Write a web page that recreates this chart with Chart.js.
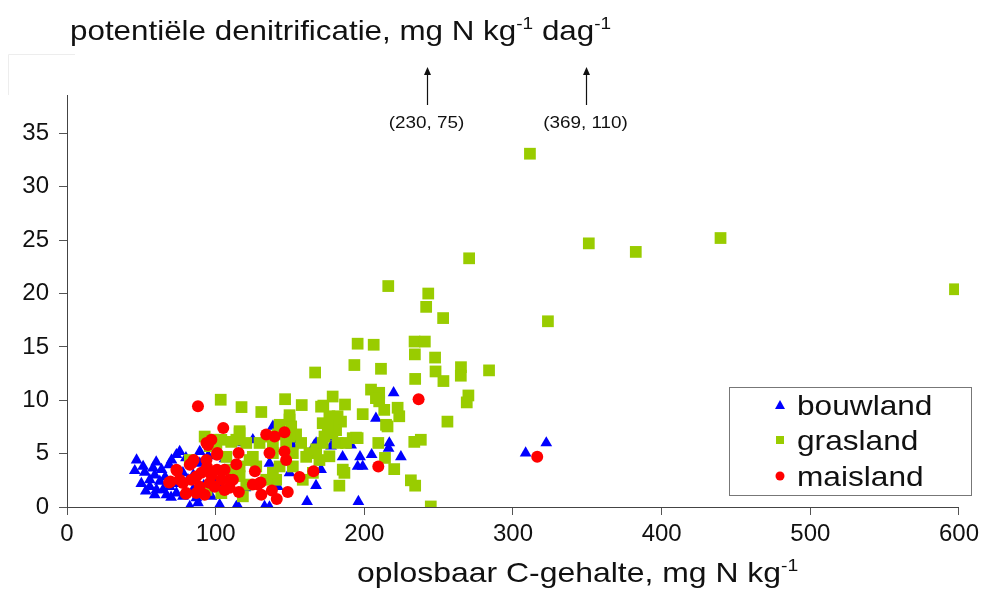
<!DOCTYPE html>
<html>
<head>
<meta charset="utf-8">
<script src="https://cdn.jsdelivr.net/npm/chart.js@4/dist/chart.umd.min.js"></script>
<style>
  html, body { margin: 0; padding: 0; background: #ffffff; }
  #wrap { width: 984px; height: 589px; }
</style>
</head>
<body>
<div id="wrap"><canvas id="c" width="984" height="589"></canvas></div>
<script>
// ---------- DATA ----------
// x: oplosbaar C-gehalte (mg N/kg), y: potentiële denitrificatie (mg N/kg/dag)
const bouwlandC = [46.8,45.6,51.2,52.3,57.9,59,63.6,68.7,70.3,75.8,73.6,89.3,55.7,60.2,64.6,69.1,55.7,62.4,59,66.9,73.6,84.8,87,100.5,103.8,97.1,81.4,89.3,
  66,72,78,80,85,92,95,60,50,53,70,78,96,106,110,120,
  82.6,88.1,102.7,113.9,115.4,132.9,136.2,161.5,196,
  110.5,118.3,125,136.2,138.5,151.9,151.9,149.7,167.6,167.5,170.9,141.8,
  219.7,207.8,216.8,216.3,224.6,197.1,195.5,198.9,204.9,185.4,191.1,178.7,177.6,166.4,
  308.5,322.4];
const bouwlandDN = [4.4,3.4,3.8,3.25,3.65,3.0,3.5,3.95,4.4,5.2,4.9,5.2,1.9,1.6,1.6,1.9,2.55,2.4,1.15,1.15,1.3,1.6,0.85,2.25,1.15,1.0,2.55,4.1,
  2.8,2.2,3.2,4.6,3.0,2.0,4.8,4.2,2.2,1.5,0.9,1.0,3.5,4.5,3.0,1.8,
  0.05,0.4,0.2,0.05,0,0.05,0,0.5,0.5,
  6.0,6.0,6.3,4.1,7.55,6.3,5.7,3.2,6.0,2.0,3.5,1.9,
  10.7,8.3,6.0,5.5,4.7,4.7,3.8,3.8,4.9,4.7,5.8,6.6,5.7,5.8,
  5.05,6.0];

const graslandC = [311.4,351,382.6,439.6,597.3,323.5,270.5,
  216.1,243,241.6,253,195.5,206.3,233.8,240.7,234,247.6,193.3,211.2,234.2,247.9,253.2,265,264.9,283.9,270,268.9,255.9,
  178.7,187,204.5,210,210,213.4,214.6,222.4,223.5,198.9,182,184.3,178.5,182,194.4,187.7,209.4,213.9,220.1,233.6,238,231.3,234.2,244.7,
  185.5,186.6,183.2,207.8,215.6,176.5,181,
  103.4,117.4,130.7,146.7,157.9,166.9,172.4,
  143,149.7,150.8,157.5,163.1,176.5,
  92.6,100.5,96,107.2,113.9,116.1,120.6,125,129.5,138.5,140.7,82.6,93.8,103.8,118.3,116.1,120.6,134,138.5,143,151.9,158.6,160.9,167.6,165.4,
  172,176.5,178.7,138.5,147.4,151.9,116.1,122.8,127.3,109.4,
  149.7,141.8,154.1,170.9,175.4,173.2,116.1,110.5,169.8,172,192.2,195.5,98.2,136.2,149.7,103.8];
const graslandDN = [33.1,24.7,23.9,25.2,20.4,17.4,23.3,
  20.7,20.0,18.75,17.7,15.3,15.2,15.5,15.5,14.3,14.0,13.3,12.95,12.0,12.7,11.8,13.1,12.3,12.8,10.45,9.8,8.0,
  10.35,9.6,11.0,10.7,9.9,9.1,7.7,9.3,8.5,8.7,8.5,8.0,7.0,6.0,6.5,6.0,6.0,4.6,3.55,6.1,6.3,2.5,2.0,0.05,
  3.5,3.2,2.0,10.2,7.55,8.5,7.2,
  10.05,9.36,8.9,10.1,9.55,12.6,9.5,
  7.7,8.2,7.55,6.0,5.05,4.75,
  6.6,6.0,5.7,4.7,6.3,6.9,6.0,4.7,6.0,5.7,2.55,4.4,1.6,1.3,1.0,2.9,2.1,2.55,3.2,3.8,3.8,2.55,4.7,5.4,3.2,
  6.0,6.9,7.55,5.05,6.0,5.05,3.8,4.4,3.8,3.5,
  8.6,6.8,6.8,9.4,7.55,6.6,7.1,6.1,4.4,7.85,6.45,6.45,6.3,6.6,6.6,6.3];

const maislandC = [88.1,105.1,93.8,97.1,94.8,68.7,74,78,79.9,83.7,85.2,101.1,115.4,113.9,115.6,111.6,126.4,125,130.2,130.7,134,139.6,146.3,146.3,147.4,136.2,137.8,141.1,148.5,156.4,165.8,109.4,109.4,106,128.4,
  73.6,69.6,75.8,82.6,87,90.4,94.2,97.1,100.9,100.9,103.8,106,99.3,89.3,80.3,92.6,87,96,83.7,93.8,
  236.5,316.3,209.4];
const maislandDN = [9.45,7.4,6.0,6.3,5.8,2.3,3.4,2.25,1.25,4.1,4.4,5.05,5.05,4.0,1.4,2.55,3.35,2.1,2.3,1.15,6.8,6.6,7.0,5.2,4.4,5.05,1.55,0.75,1.4,2.8,3.35,2.55,1.8,3.5,2.1,
  3.5,2.4,2.55,3.95,2.85,3.2,3.75,3.0,4.9,3.5,2.55,1.6,1.9,1.9,1.3,1.15,1.3,2.25,2.55,4.4,
  10.1,4.7,3.8];

const seriesNames = ['bouwland', 'grasland', 'maisland'];
const xTickValues = [0, 100, 200, 300, 400, 500, 600];
const yTickValues = [0, 5, 10, 15, 20, 25, 30, 35];
// off-scale values indicated by arrows above the plot
const offScaleLabels = ['(230, 75)', '(369, 110)'];
const offScaleArrowX = [242, 349];

// ---------- helpers ----------
const FONT = '"Liberation Sans", Arial, Helvetica, sans-serif';
function pts(xs, ys) { return xs.map((x, i) => ({ x: x, y: ys[i] })); }

function drawRich(ctx, parts, x, y, size, sx, align) {
  ctx.save();
  let w = 0;
  const widths = [];
  for (const [t, sup] of parts) {
    ctx.font = (sup ? Math.round(size * 0.62) : size) + 'px ' + FONT;
    const mw = ctx.measureText(t).width;
    widths.push(mw); w += mw;
  }
  const start = align === 'center' ? x - w * sx / 2 : x;
  ctx.translate(start, y);
  ctx.scale(sx, 1);
  ctx.fillStyle = '#111';
  ctx.textBaseline = 'alphabetic';
  ctx.textAlign = 'left';
  let cx = 0;
  parts.forEach(([t, sup], i) => {
    ctx.font = (sup ? Math.round(size * 0.62) : size) + 'px ' + FONT;
    ctx.fillText(t, cx, sup ? -size * 0.40 : 0);
    cx += widths[i];
  });
  ctx.restore();
}

const decorPlugin = {
  id: 'decor',
  afterDraw(chart) {
    const ctx = chart.ctx;
    const area = chart.chartArea;
    const xs = chart.scales.x;

    // faint frame remnant at top-left
    ctx.save();
    ctx.strokeStyle = '#ededed';
    ctx.lineWidth = 1;
    ctx.beginPath();
    ctx.moveTo(8.5, area.top);
    ctx.lineTo(8.5, 54.5);
    ctx.lineTo(75, 54.5);
    ctx.stroke();
    ctx.restore();

    // Title (y-axis quantity)
    drawRich(ctx, [['potentiële denitrificatie, mg N kg', false], ['-1', true], [' dag', false], ['-1', true]],
      70, 40, 28, 1.12, 'left');

    // x-axis title
    drawRich(ctx, [['oplosbaar C-gehalte, mg N kg', false], ['-1', true]],
      357, 582, 28, 1.14, 'left');

    // off-scale arrows + labels
    offScaleLabels.forEach((lab, i) => {
      const px = Math.round(xs.getPixelForValue(offScaleArrowX[i])) + 0.5;
      ctx.save();
      ctx.strokeStyle = '#111';
      ctx.fillStyle = '#111';
      ctx.lineWidth = 1.2;
      ctx.beginPath();
      ctx.moveTo(px, area.top + 10);
      ctx.lineTo(px, area.top - 24);
      ctx.stroke();
      ctx.beginPath();
      ctx.moveTo(px, area.top - 28);
      ctx.lineTo(px - 3.5, area.top - 20);
      ctx.lineTo(px + 3.5, area.top - 20);
      ctx.closePath();
      ctx.fill();
      ctx.restore();
      drawRich(ctx, [[lab, false]], px - 1, area.top + 33, 16, 1.18, 'center');
    });

    // legend box
    ctx.save();
    ctx.strokeStyle = '#777';
    ctx.lineWidth = 1;
    ctx.fillStyle = '#ffffff';
    ctx.fillRect(729.5, 387.5, 242, 108);
    ctx.strokeRect(729.5, 387.5, 242, 108);
    const colors = ['#0000ff', '#99cc00', '#ff0000'];
    const ys = [405, 440, 476];
    ctx.fillStyle = colors[0];
    ctx.beginPath();
    ctx.moveTo(780, ys[0] - 5); ctx.lineTo(785, ys[0] + 4); ctx.lineTo(775, ys[0] + 4); ctx.closePath(); ctx.fill();
    ctx.fillStyle = colors[1];
    ctx.fillRect(776, ys[1] - 4, 8, 8);
    ctx.fillStyle = colors[2];
    ctx.beginPath(); ctx.arc(780, ys[2], 4.5, 0, Math.PI * 2); ctx.fill();
    ctx.restore();
    seriesNames.forEach((n, i) => {
      drawRich(ctx, [[n, false]], 797, ys[i] + 10, 28, 1.13, 'left');
    });
  }
};

const chart = new Chart(document.getElementById('c'), {
  type: 'scatter',
  data: {
    datasets: [
      { label: seriesNames[0], data: pts(bouwlandC, bouwlandDN), pointStyle: 'triangle', pointRadius: 6.8,
        backgroundColor: '#0000ff', borderWidth: 0, order: 3 },
      { label: seriesNames[1], data: pts(graslandC, graslandDN), pointStyle: 'rect', pointRadius: 8.3,
        backgroundColor: '#99cc00', borderWidth: 0, order: 2 },
      { label: seriesNames[2], data: pts(maislandC, maislandDN), pointStyle: 'circle', pointRadius: 6,
        backgroundColor: '#ff0000', borderWidth: 0, order: 1 }
    ]
  },
  options: {
    responsive: false,
    animation: false,
    events: [],
    layout: { padding: { left: 0, right: 23, top: 95, bottom: 0 } },
    plugins: { legend: { display: false }, tooltip: { enabled: false }, title: { display: false } },
    scales: {
      x: {
        type: 'linear', min: 0, max: 600,
        afterBuildTicks: s => { s.ticks = xTickValues.map(v => ({ value: v })); },
        ticks: { font: { family: FONT, size: 24 }, color: '#111', padding: 5, maxRotation: 0, autoSkip: false },
        grid: { drawOnChartArea: false, drawTicks: true, tickLength: 8, color: '#555', lineWidth: 1 },
        border: { display: true, color: '#444', width: 1 },
        afterFit: s => { s.height = 82; }
      },
      y: {
        type: 'linear', min: 0, max: 38.6,
        afterBuildTicks: s => { s.ticks = yTickValues.map(v => ({ value: v })); },
        ticks: { font: { family: FONT, size: 24 }, color: '#111', padding: 10, autoSkip: false },
        grid: { drawOnChartArea: false, drawTicks: true, tickLength: 8, color: '#555', lineWidth: 1 },
        border: { display: true, color: '#444', width: 1 },
        afterFit: s => { s.width = 67; }
      }
    }
  },
  plugins: [decorPlugin]
});
</script>
</body>
</html>
